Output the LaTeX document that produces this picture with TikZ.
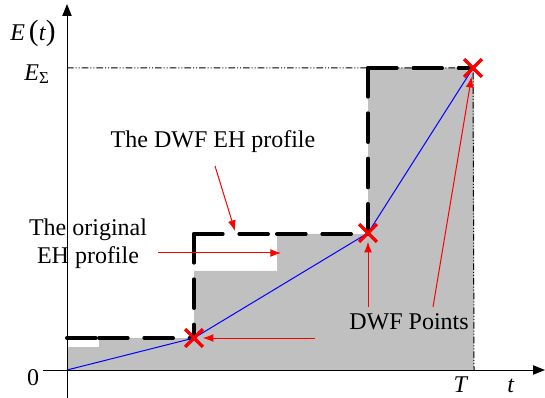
\documentclass[tikz,border=0pt]{standalone}
\usepackage{fontspec}
\setmainfont{Liberation Serif}
\usetikzlibrary{arrows.meta,shapes.misc,positioning}

\definecolor{silver}{RGB}{192,192,192}

\begin{document}
\begin{tikzpicture}[x=0.75pt,y=-0.75pt]

\tikzstyle{axis} = [line width=0.75pt, -{Triangle[length=9pt,width=7pt]}]
\tikzstyle{dwfline} = [line width=3pt, line cap=round, dash pattern=on 21.5pt off 12.5pt]
\tikzstyle{guide} = [black, line width=0.75pt, dash pattern=on 5pt off 1.5pt on 0.75pt off 1.5pt on 0.75pt off 1.5pt]
\tikzstyle{pointer} = [red, line width=0.75pt, -{Latex[length=8pt,width=6pt]}]
\tikzstyle{dwfpoint} = [cross out, draw=red, line width=2.2pt, minimum size=11pt, inner sep=0pt]
\tikzstyle{texto} = [font=\fontsize{18}{21}\selectfont, align=center, inner sep=0pt]

\useasboundingbox (0,0) rectangle (545,398);

% the original EH profile
\fill[silver] (67,370) -- (67,347) -- (99,347) -- (99,338) -- (194,338)
  -- (194,271) -- (277,271) -- (277,234) -- (368,234) -- (368,68)
  -- (474,68) -- (474,370) -- cycle;

% DWF points
\node[dwfpoint] (p1) at (194,338) {};
\node[dwfpoint] (p2) at (368,233) {};
\node[dwfpoint] (p3) at (473,68) {};

\coordinate (o) at (67,370);
\coordinate (esum) at (67,68);
\coordinate (tend) at (474,370);

% E_sum and T guides
\draw[guide] (esum) -- (p3.center) -- (tend);

% the DWF EH profile, one piece per step
\draw[dwfline] (67,338) -- (99,338);
\draw[dwfline] (99,338) -- (p1.center);
\draw[dwfline] (194,234) -- (p1.center);
\draw[dwfline] (194,234) -- (277,234);
\draw[dwfline] (277,234) -- (368,234);
\draw[dwfline] (368,68) -- (368,234);
\draw[dwfline] (368,68) -- (p3.center);

\draw[blue, line width=0.75pt] (o) -- (p1.center) -- (p2.center) -- (p3.center);

% axes
\draw[axis] (43,370) -- (545,370);
\draw[axis] (67,398) -- (67,4);

% crosses on top
\node[dwfpoint] at (p1) {};
\node[dwfpoint] at (p2) {};
\node[dwfpoint] at (p3) {};

% labels
\node[texto] (lE) at (33,33) {\textit{E}\,{\fontsize{22}{22}\selectfont(}\textit{t}{\fontsize{22}{22}\selectfont)}};
\node[texto] (lEs) at (37,74) {\textit{E}\textsubscript{Σ}};
\node[texto] (l0) at (33,378) {0};
\node[texto] (lT) at (461,385) {\textit{T}};
\node[texto] (lt) at (511,386) {\textit{t}};
\node[texto] (ldwf) at (213,142) {The DWF EH profile};
\node[texto] (lorig) at (88,244) {The original\\EH profile};
\node[texto] (lpts) at (409,322) {DWF Points};

% pointers
\coordinate (c1) at (215,166);
\coordinate (e1) at (235,231);
\coordinate (c2) at (158,253);
\coordinate (e2) at (281,253);
\coordinate (c3) at (315,338);
\coordinate (c4) at (368,307);
\coordinate (c5) at (433,307);

\draw[pointer] (c1) -- (e1);
\draw[pointer] (c2) -- (e2);
\draw[pointer] (c3) -- (p1);
\draw[pointer] (c4) -- (p2);
\draw[pointer] (c5) -- (p3);

\end{tikzpicture}
\end{document}
